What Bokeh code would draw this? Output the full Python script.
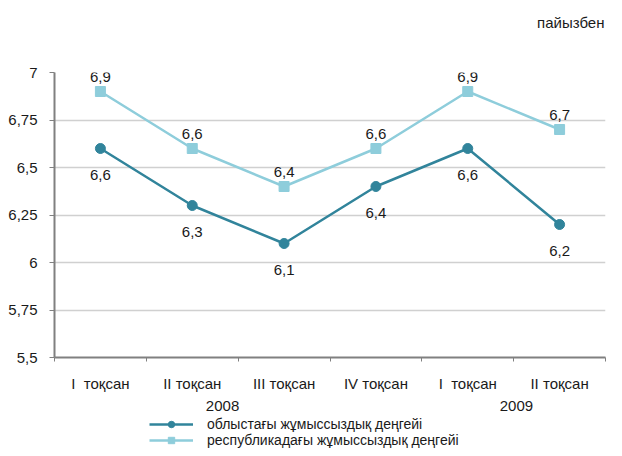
from bokeh.plotting import figure
from bokeh.models import FixedTicker, Legend, LegendItem, ColumnDataSource, LinearAxis, Label, Range1d
from bokeh.layouts import column
from bokeh.embed import file_html
from bokeh.resources import INLINE
from bokeh.core.properties import value

quarters = ["I \u00a0тоқсан", "II тоқсан", "III тоқсан", "IV тоқсан", "I \u00a0тоқсан", "II тоқсан"]
years = ["2008", "2009"]
year_pos = [1.33, 4.53]
regional = [6.6, 6.3, 6.1, 6.4, 6.6, 6.2]
national = [6.9, 6.6, 6.4, 6.6, 6.9, 6.7]
yticks = [5.5, 5.75, 6.0, 6.25, 6.5, 6.75, 7.0]
ytick_labels = ["5,5", "5,75", "6", "6,25", "6,5", "6,75", "7"]
name_regional = "облыстағы жұмыссыздық деңгейі"
name_national = "республикадағы жұмыссыздық деңгейі"
unit_text = "пайызбен"

FONT = "Liberation Sans"
FS = "15px"
DARK = "#31849B"
LIGHT = "#8ECDDB"
TXT = "#1a1a1a"

W = 606
H_TOP, H_MAIN, H_LEG = 44, 370, 34
BL, BR, BT, BB = 54, 1, 28, 57

xs = list(range(len(quarters)))
src = ColumnDataSource(dict(
    x=xs, reg=regional, nat=national,
    reg_lbl=[f"{v:.1f}".replace(".", ",") for v in regional],
    nat_lbl=[f"{v:.1f}".replace(".", ",") for v in national],
))

# top strip with the unit note
t = figure(width=W, height=H_TOP, output_backend="svg", toolbar_location=None,
           x_axis_type=None, y_axis_type=None,
           x_range=Range1d(0, 1), y_range=Range1d(0, 1),
           min_border_left=0, min_border_right=0, min_border_top=0, min_border_bottom=0)
t.outline_line_color = None
t.grid.grid_line_color = None
t.add_layout(Label(x=1, y=0.5, x_offset=-1, text=unit_text, text_align="right",
                   text_baseline="middle", text_font=FONT, text_font_size=FS,
                   text_color=TXT))

p = figure(width=W, height=H_MAIN, output_backend="svg", toolbar_location=None,
           x_range=(-0.5, len(quarters) - 0.5), y_range=(5.5, 7.0),
           min_border_left=BL, min_border_right=BR, min_border_top=BT, min_border_bottom=BB)
p.outline_line_color = None
p.background_fill_color = "white"
p.border_fill_color = "white"

# axes
p.yaxis.ticker = FixedTicker(ticks=yticks)
p.yaxis.major_label_overrides = {tk: lb for tk, lb in zip(yticks, ytick_labels)}
p.yaxis.major_label_text_font = FONT
p.yaxis.major_label_text_font_size = FS
p.yaxis.major_label_text_color = TXT
p.yaxis.axis_line_color = "#808080"
p.yaxis.axis_line_width = 2
p.yaxis.major_tick_line_color = "#808080"
p.yaxis.major_tick_out = 5
p.yaxis.major_tick_in = 0
p.yaxis.minor_tick_line_color = None
p.yaxis.major_label_standoff = 12

p.xaxis.ticker = FixedTicker(ticks=xs, minor_ticks=[i - 0.5 for i in range(len(quarters) + 1)])
p.xaxis.major_label_overrides = {i: qq for i, qq in enumerate(quarters)}
p.xaxis.major_label_text_font = FONT
p.xaxis.major_label_text_font_size = FS
p.xaxis.major_label_text_color = TXT
p.xaxis.axis_line_color = "#808080"
p.xaxis.axis_line_width = 2
p.xaxis.major_tick_line_color = None
p.xaxis.minor_tick_line_color = "#808080"
p.xaxis.minor_tick_out = 4
p.xaxis.minor_tick_in = 0
p.xaxis.major_label_standoff = 11

# year axis (second level of categories)
year_axis = LinearAxis(ticker=FixedTicker(ticks=year_pos),
                       major_label_overrides={xp: yr for xp, yr in zip(year_pos, years)})
year_axis.axis_line_color = None
year_axis.major_tick_line_color = None
year_axis.minor_tick_line_color = None
year_axis.major_tick_out = 0
year_axis.major_tick_in = 0
year_axis.major_label_standoff = 6
year_axis.major_label_text_font = FONT
year_axis.major_label_text_font_size = FS
year_axis.major_label_text_color = TXT
p.add_layout(year_axis, "below")

p.xgrid.grid_line_color = None
p.ygrid.grid_line_color = "#D0D0D0"
p.ygrid.grid_line_width = 1.5

# series
p.line("x", "nat", source=src, line_color=LIGHT, line_width=2.5)
p.scatter("x", "nat", source=src, marker="square", size=10, fill_color=LIGHT, line_color=LIGHT)
p.line("x", "reg", source=src, line_color=DARK, line_width=2.5)
p.scatter("x", "reg", source=src, marker="circle", size=10, fill_color=DARK, line_color=DARK)

p.text("x", "nat", text="nat_lbl", source=src, y_offset=-15, text_align="center",
       text_baseline="middle", text_font=value(FONT), text_font_size=FS, text_color=TXT)
p.text("x", "reg", text="reg_lbl", source=src, y_offset=26, text_align="center",
       text_baseline="middle", text_font=value(FONT), text_font_size=FS, text_color=TXT)

# legend strip (separate figure so it can sit freely below the axes)
q = figure(width=W, height=H_LEG, output_backend="svg", toolbar_location=None,
           x_axis_type=None, y_axis_type=None,
           x_range=Range1d(100, 101), y_range=Range1d(100, 101),
           min_border_left=0, min_border_right=0, min_border_top=0, min_border_bottom=0)
q.outline_line_color = None
q.grid.grid_line_color = None
lr1 = q.line("x", "reg", source=src, line_color=DARK, line_width=2.5)
lr2 = q.scatter("x", "reg", source=src, marker="circle", size=10, fill_color=DARK, line_color=DARK)
ln1 = q.line("x", "nat", source=src, line_color=LIGHT, line_width=2.5)
ln2 = q.scatter("x", "nat", source=src, marker="square", size=10, fill_color=LIGHT, line_color=LIGHT)

legend = Legend(items=[
    LegendItem(label=name_regional, renderers=[lr1, lr2]),
    LegendItem(label=name_national, renderers=[ln1, ln2]),
], location=(95, 0), orientation="vertical")
legend.label_text_font = FONT
legend.label_text_font_size = "14px"
legend.label_text_color = TXT
legend.glyph_width = 44
legend.glyph_height = 16
legend.label_height = 16
legend.spacing = 0
legend.padding = 0
legend.margin = 0
legend.label_standoff = 14
legend.border_line_color = None
legend.background_fill_alpha = 0
q.add_layout(legend, "center")

layout = column(t, p, q, spacing=0)
open("out.html", "w").write(file_html(layout, INLINE))
